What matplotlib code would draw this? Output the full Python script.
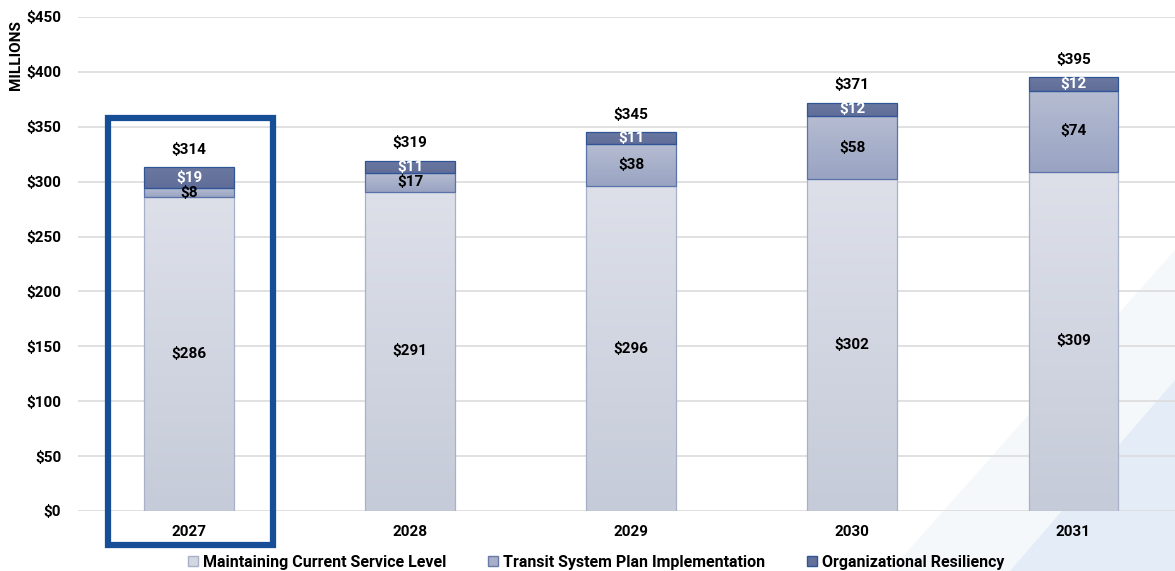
import matplotlib.pyplot as plt
import numpy as np
from matplotlib.patches import Rectangle, Patch, Polygon
from matplotlib.colors import LinearSegmentedColormap

plt.rcParams['font.family'] = ['Roboto', 'DejaVu Sans']
plt.rcParams['font.weight'] = 'bold'

years = ['2027', '2028', '2029', '2030', '2031']
maintaining = [286, 291, 296, 302, 309]
transit = [8, 17, 38, 58, 74]
resiliency = [19, 11, 11, 12, 12]
totals = [314, 319, 345, 371, 395]
series_names = ['Maintaining Current Service Level',
                'Transit System Plan Implementation',
                'Organizational Resiliency']
yticks = [0, 50, 100, 150, 200, 250, 300, 350, 400, 450]

W, H = 1175, 571
fig = plt.figure(figsize=(W / 100, H / 100), dpi=100)

# faint diagonal background shapes, bottom right
def px(pts):
    return [(x / W, 1 - y / H) for x, y in pts]

fig.patches.append(Polygon(px([(890, 571), (1175, 250), (1175, 571)]),
                           closed=True, facecolor='#f5f8fb', edgecolor='none',
                           transform=fig.transFigure, zorder=-2))
fig.patches.append(Polygon(px([(1010, 571), (1175, 380), (1175, 571)]),
                           closed=True, facecolor='#e4edf7', edgecolor='none',
                           transform=fig.transFigure, zorder=-1))

ax = fig.add_axes([78 / W, (H - 511) / H, (W - 78) / W, 494 / H])
ax.set_facecolor('none')

x = np.arange(len(years))
width = 0.405

grad_bottom = LinearSegmentedColormap.from_list('b', ['#c6cbd9', '#dde0e9'])
grad_mid = LinearSegmentedColormap.from_list('m', ['#99a3c2', '#b6bdd2'])
grad_top = LinearSegmentedColormap.from_list('t', ['#5f6d98', '#6b79a1'])

segments = [
    (maintaining, grad_bottom, '#a9b1c9'),
    (transit, grad_mid, '#5b73a8'),
    (resiliency, grad_top, '#2f5597'),
]

grad = np.linspace(0, 1, 256).reshape(-1, 1)
bottoms = np.zeros(len(years))
for vals, cmap, edge in segments:
    bars = ax.bar(x, vals, width, bottom=bottoms, facecolor='none',
                  edgecolor=edge, linewidth=0.9, zorder=3)
    for b in bars:
        x0, y0 = b.get_x(), b.get_y()
        im = ax.imshow(grad, cmap=cmap, aspect='auto', origin='lower',
                       extent=[x0, x0 + b.get_width(), y0, y0 + b.get_height()],
                       zorder=2)
        im.set_clip_path(b)
    bottoms += np.array(vals)

ax.set_xlim(-0.502, 4.46)
ax.set_ylim(0, 450)

# segment labels
b0 = np.zeros(len(years))
for vals, color in [(maintaining, 'black'), (transit, 'black'), (resiliency, 'white')]:
    for i, v in enumerate(vals):
        ax.text(x[i], b0[i] + v / 2, f'${v}', ha='center', va='center',
                fontsize=11, fontweight='bold', color=color, zorder=5)
    b0 += np.array(vals)

for i, t in enumerate(totals):
    ax.text(x[i], bottoms[i] + 16, f'${t}', ha='center', va='center',
            fontsize=11, fontweight='bold', color='black', zorder=5)

ax.set_yticks(yticks)
ax.set_yticklabels([f'${v}' for v in yticks], fontsize=11, fontweight='bold')
ax.set_xticks(x)
ax.set_xticklabels(years, fontsize=11, fontweight='bold')
ax.tick_params(axis='both', length=0)
ax.tick_params(axis='y', pad=12)
ax.tick_params(axis='x', pad=10)
ax.grid(axis='y', color='#dcdcdc', linewidth=1.2, zorder=0)
ax.set_axisbelow(True)
for s in ax.spines.values():
    s.set_visible(False)

fig.text(16 / W, 1 - 55 / H, 'MILLIONS', rotation=90, ha='center', va='center',
         fontsize=11, fontweight='bold')

# highlight box around 2027
ax.add_patch(Rectangle((-0.367, -31), 0.747, 389, fill=False, edgecolor='#164f96',
                       linewidth=4.5, clip_on=False, zorder=6))

handles = [Patch(facecolor='#d3d7e2', edgecolor='#a9b1c9'),
           Patch(facecolor='#a8b0c9', edgecolor='#6a7aa6'),
           Patch(facecolor='#63719b', edgecolor='#2f5597')]
fig.legend(handles, series_names, loc='center', bbox_to_anchor=(596 / W, 1 - 562 / H),
           ncol=3, frameon=False, handlelength=0.65, handleheight=0.65,
           handletextpad=0.3, columnspacing=2.6, prop={'weight': 'bold', 'size': 11.5})

fig.savefig('out.png', dpi=100)
